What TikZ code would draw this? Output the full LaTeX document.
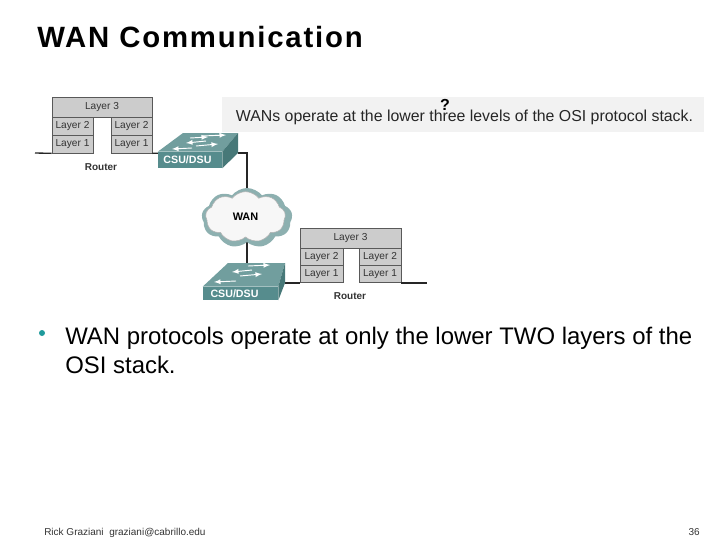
\documentclass[tikz,border=0pt]{standalone}
\usepackage{fontspec}
\setmainfont{Liberation Sans}
\newfontface\titlefont[LetterSpace=6.2]{Liberation Sans Bold}
\usetikzlibrary{shapes.symbols}
\definecolor{layergray}{HTML}{CCCCCC}
\definecolor{csufront}{HTML}{568C8D}
\definecolor{csutop}{HTML}{719E9E}
\definecolor{csuside}{HTML}{477878}
\definecolor{cloudrim}{HTML}{8DB0B0}
\definecolor{bulletteal}{HTML}{1F9A9C}
\tikzset{
    layerbox/.style={draw=black!65,fill=layergray,line width=0.5pt,inner sep=0pt,font=\fontsize{7.6}{9}\selectfont,text=black!80},
    wire/.style={line width=1pt,black!85},
    csubox/.style={fill=csufront,inner sep=0pt,font=\bfseries\fontsize{8}{9}\selectfont,text=white},
    routerlabel/.style={inner sep=0pt,font=\bfseries\fontsize{7.5}{9}\selectfont,text=black!80},
    arrowline/.style={white,line width=0.7pt,-latex}
}
\begin{document}
\begin{tikzpicture}[x=0.75pt,y=-0.75pt]
            \useasboundingbox (0,0) rectangle (720,540);

            %title
            \node[anchor=base west,inner sep=0pt,font=\titlefont\fontsize{22}{26}\selectfont] (title) at (37,47) {WAN Communication};

            %banner
            \node[fill=black!5,minimum width=361.5pt,minimum height=26.25pt,inner sep=0pt] (banner) at (463,114.5) {};
            \node[inner sep=0pt,font=\fontsize{11.9}{14}\selectfont,text=black!85] (bannertext) at (464.5,117) {WANs operate at the lower three levels of the OSI protocol stack.};
            \node[inner sep=0pt,font=\bfseries\fontsize{12}{14}\selectfont] (question) at (445,105) {?};

            %wires behind the devices
            \coordinate (leftend) at (35,153);
            \coordinate (rightend) at (427,283);
            \coordinate (csuaright) at (238,153);
            \coordinate (csubright) at (285,283);
            \coordinate (bendone) at (247,153);
            \coordinate (cloudcentre) at (247,218);

            %first router
            \node[layerbox,minimum width=75pt,minimum height=15pt] (layerthreea) at (102,107) {Layer 3};
            \node[layerbox,minimum width=30.75pt,minimum height=13.5pt] (layertwoa) at (72.5,126) {Layer 2};
            \node[layerbox,minimum width=30.75pt,minimum height=13.5pt] (layeronea) at (72.5,144) {Layer 1};
            \node[layerbox,minimum width=30.75pt,minimum height=13.5pt] (layertwob) at (131.5,126) {Layer 2};
            \node[layerbox,minimum width=30.75pt,minimum height=13.5pt] (layeroneb) at (131.5,144) {Layer 1};
            \node[routerlabel] (routera) at (101,167) {Router};

            %second router
            \node[layerbox,minimum width=75.75pt,minimum height=15pt] (layerthreec) at (350.5,238) {Layer 3};
            \node[layerbox,minimum width=32.25pt,minimum height=13pt] (layertwoc) at (321.5,257) {Layer 2};
            \node[layerbox,minimum width=32.25pt,minimum height=13pt] (layeronec) at (321.5,274) {Layer 1};
            \node[layerbox,minimum width=31.5pt,minimum height=13pt] (layertwod) at (380,257) {Layer 2};
            \node[layerbox,minimum width=31.5pt,minimum height=13pt] (layeroned) at (380,274) {Layer 1};
            \node[routerlabel] (routerb) at (350,296) {Router};

            %wires
            \draw[wire] (leftend) -- (layeronea.south west);
            \draw[wire] (layeroneb.south east) -- (165,153);
            \draw[wire] (csuaright) -- (bendone) -- (cloudcentre) -- (247,270);
            \draw[wire] (csubright) -- (layeronec.south west);
            \draw[wire] (layeroned.south east) -- (rightend);

            %first csu
            \node[csubox,minimum width=48pt,minimum height=12pt] (csua) at (190,160) {CSU/DSU\kern 3.8pt};
            \fill[csutop] (csua.north west) -- (183,133) -- (238,133) -- (csua.north east) -- cycle;
            \fill[csuside] (csua.north east) -- (238,133) -- (csuaright) -- (csua.south east) -- cycle;
            \draw[arrowline] (206,141) -- (186,143);
            \draw[arrowline] (190,138) -- (208,137);
            \draw[arrowline] (202,136) -- (226,135);
            \draw[arrowline] (196,146) -- (218,144);
            \draw[arrowline] (192,148) -- (172,149);

            %second csu
            \node[csubox,minimum width=56.25pt,minimum height=10pt] (csub) at (240.5,293.5) {CSU/DSU\kern 9pt};
            \fill[csutop] (csub.north west) -- (228,263) -- (285,263) -- (csub.north east) -- cycle;
            \fill[csuside] (csub.north east) -- (285,263) -- (csubright) -- (csub.south east) -- cycle;
            \draw[arrowline] (248,266) -- (270,265);
            \draw[arrowline] (252,270) -- (232,272);
            \draw[arrowline] (240,276) -- (262,274);
            \draw[arrowline] (236,281) -- (214,282);

            %cloud
            \node[cloud,cloud puffs=9,cloud puff arc=105,aspect=1.5,fill=cloudrim,minimum width=68pt,minimum height=45pt,inner sep=0pt] (cloudshadow) at (cloudcentre) {};
            \node[cloud,cloud puffs=9,cloud puff arc=105,aspect=1.5,draw=black!30,fill=black!3,minimum width=60pt,minimum height=38pt,inner sep=0pt,font=\bfseries\fontsize{8.2}{9}\selectfont] (wan) at (245.5,217) {WAN};

            %bullet and text
            \node[circle,fill=bulletteal,minimum size=4.5pt,inner sep=0pt] (bullet) at (42,333) {};
            \node[anchor=base west,inner sep=0pt,font=\fontsize{17.95}{20}\selectfont] (lineone) at (65,344) {WAN protocols operate at only the lower TWO layers of the};
            \node[anchor=base west,inner sep=0pt,font=\fontsize{17.95}{20}\selectfont] (linetwo) at (65,373) {OSI stack.};

            %footer
            \node[anchor=base west,inner sep=0pt,font=\fontsize{7.5}{8}\selectfont,text=black!80] (footer) at (44,535) {Rick Graziani\ \ graziani@cabrillo.edu};
            \node[anchor=base east,inner sep=0pt,font=\fontsize{7.5}{8}\selectfont,text=black!80] (pagenumber) at (700,535) {36};
        \end{tikzpicture}
\end{document}
